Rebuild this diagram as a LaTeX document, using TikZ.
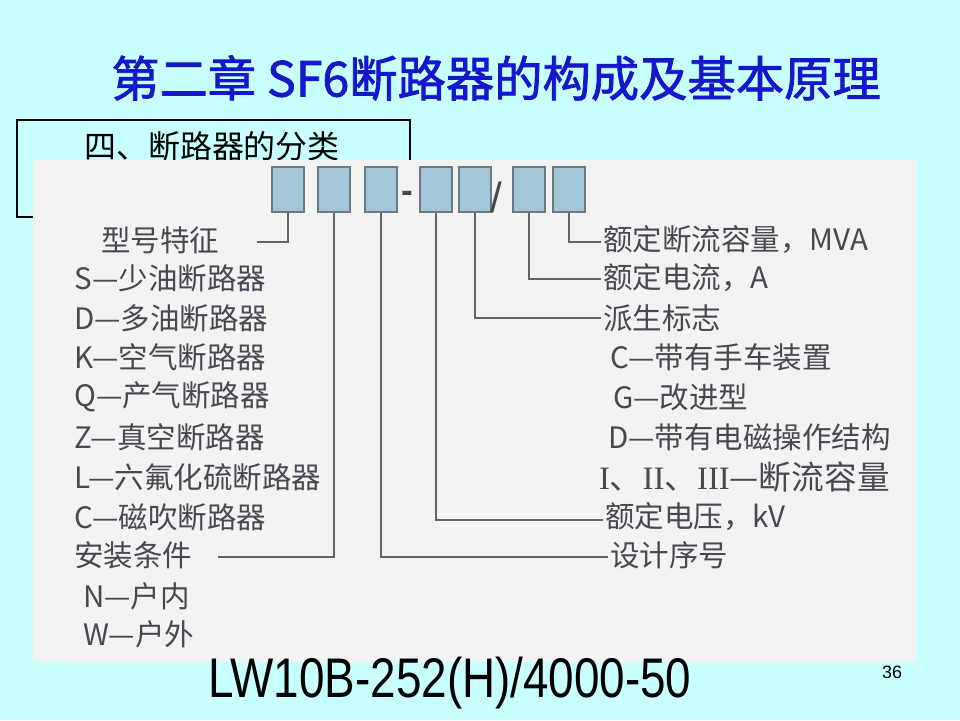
\documentclass[tikz,border=0pt]{standalone}
\usepackage{fontspec}
\setmainfont{Noto Sans CJK SC}
\newfontfamily\titlefont[FakeBold=1.6]{Noto Sans CJK SC}
\newfontfamily\latinsans{Liberation Sans}
\newfontfamily\romanfont{Liberation Serif}
\usetikzlibrary{positioning,calc}
\definecolor{slidebg}{RGB}{200,255,255}
\definecolor{panelbg}{RGB}{243,243,243}
\definecolor{cellfill}{RGB}{163,198,214}
\definecolor{celldraw}{RGB}{105,122,132}
\definecolor{labeltext}{RGB}{72,72,82}
\definecolor{titleblue}{RGB}{22,22,205}

\begin{document}
\begin{tikzpicture}[x=0.02cm,y=-0.02cm,
  every node/.style={inner sep=1pt},
  cell/.style={draw=celldraw,fill=cellfill,line width=0.8pt,minimum width=0.64cm,minimum height=0.9cm},
  lbl/.style={anchor=west,text=labeltext,font=\fontsize{16.8}{18}\selectfont,inner sep=1pt},
  conn/.style={draw=labeltext!85,line width=0.8pt}]
\useasboundingbox (0,0) rectangle (960,720);
\fill[slidebg] (0,0) rectangle (960,720);
% title and section box
\node[text=titleblue,font=\titlefont\fontsize{27.5}{30}\selectfont] (title) at (496,78) {第二章 SF6断路器的构成及基本原理};
\draw[black,line width=0.6pt] (17,120) rectangle (410,217);
\node[font=\fontsize{18.2}{20}\selectfont] (sect) at (212,146) {四、断路器的分类};
\fill[panelbg] (33,160) rectangle (917,662);
% code cells
\node[cell] (b1) at (288,189.5) {};
\node[cell] (b2) at (334,189.5) {};
\node[cell] (b3) at (381,189.5) {};
\node[cell] (b4) at (436,189.5) {};
\node[cell] (b5) at (475,189.5) {};
\node[cell] (b6) at (529,189.5) {};
\node[cell] (b7) at (569,189.5) {};
\node[text=labeltext,font=\latinsans\bfseries\fontsize{20}{20}\selectfont] (dash) at (407.5,197) {-};
\node[text=labeltext,font=\latinsans\fontsize{24}{24}\selectfont] (slash) at (496,197) {/};
% left column
\node[lbl] (lt) at (99,240) {型号特征};
\node[lbl] (ls) at (72,278) {S—少油断路器};
\node[lbl] (ld) at (72,318) {D—多油断路器};
\node[lbl] (lk) at (72,357) {K—空气断路器};
\node[lbl] (lq) at (72,397) {Q—产气断路器};
\node[lbl] (lz) at (72,437) {Z—真空断路器};
\node[lbl] (ll) at (72,477) {L—六氟化硫断路器};
\node[lbl] (lc) at (72,517) {C—磁吹断路器};
\node[lbl] (li) at (72,555) {安装条件};
\node[lbl] (ln) at (81,596) {N—户内};
\node[lbl] (lw) at (81,634) {W—户外};
% right column
\node[lbl] (rcap) at (601,240) {额定断流容量，MVA};
\node[lbl] (rcur) at (601,278) {额定电流，A};
\node[lbl] (rder) at (601,318) {派生标志};
\node[lbl] (rc) at (608,357) {C—带有手车装置};
\node[lbl] (rg) at (611,397) {G—改进型};
\node[lbl] (rd) at (606,437) {D—带有电磁操作结构};
\node[lbl,font=\fontsize{18.6}{20}\selectfont] (rr) at (597,477) {{\romanfont I}、{\romanfont II}、{\romanfont III}—断流容量};
\node[lbl] (rvol) at (603,517) {额定电压，kV};
\node[lbl] (rdes) at (608,555) {设计序号};
% connectors
\coordinate (e1) at (257,242);
\coordinate (e2) at (218,557);
\draw[conn] (b1.south) |- (e1);
\draw[conn] (b2.south) |- (e2);
\draw[conn] (b3.south) |- ([yshift=-0.04cm]rdes.west);
\draw[conn] (b4.south) |- ([yshift=-0.06cm]rvol.west);
\draw[conn] (b5.south) |- (rder.west);
\draw[conn] (b6.south) |- ([yshift=-0.02cm]rcur.west);
\draw[conn] (b7.south) |- ([yshift=-0.04cm]rcap.west);
% model example and page number
\node[font=\latinsans\fontsize{31.8}{34}\selectfont] (model) at (450,683) {\scalebox{0.82}[1]{LW10B-252(H)/4000-50}};
\node[font=\latinsans\fontsize{10.2}{12}\selectfont] (page) at (892,672) {36};
\end{tikzpicture}
\end{document}
